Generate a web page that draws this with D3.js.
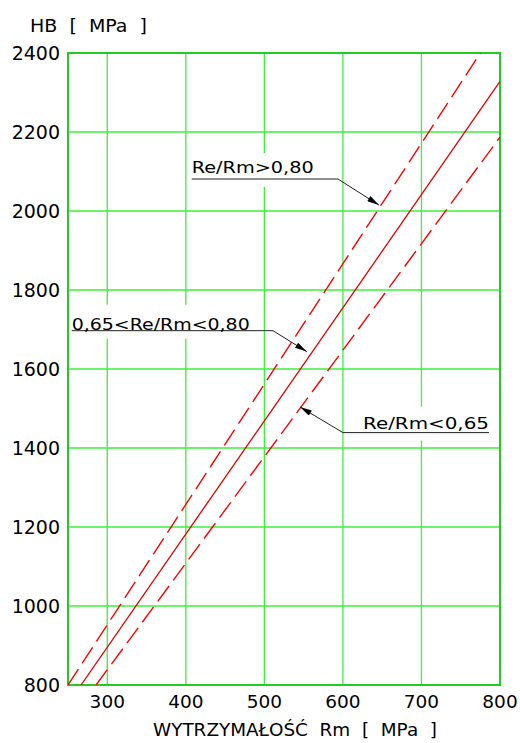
<!DOCTYPE html>
<html><head><meta charset="utf-8">
<script src="https://cdn.jsdelivr.net/npm/d3@7"></script>
<style>body{margin:0;background:#fff}svg{display:block}</style>
</head><body>
<script>
// ---- data ----
const xTicks = [300, 400, 500, 600, 700, 800];
const yTicks = [800, 1000, 1200, 1400, 1600, 1800, 2000, 2200, 2400];
const seriesNames = ["Re/Rm>0,80", "0,65<Re/Rm<0,80", "Re/Rm<0,65"];
const upperLine = [[250, 800], [775, 2400]];
const middleLine = [[266.6, 800], [800, 2328]];
const lowerLine = [[285.7, 800], [800, 2187]];
const yTitle = "HB  [  MPa  ]";
const xTitle = "WYTRZYMAŁOŚĆ  Rm  [  MPa  ]";

const W = 520, H = 743;
const svg = d3.select("body").append("svg").attr("width", W).attr("height", H);
const x = d3.scaleLinear().domain([250, 800]).range([68, 500]);
const y = d3.scaleLinear().domain([800, 2400]).range([685, 53]);

const font = "DejaVu Sans, sans-serif";

// grid
const g = svg.append("g");
g.selectAll(".vg").data(xTicks.filter(t => t < 800)).join("line")
  .attr("x1", d => x(d)).attr("x2", d => x(d)).attr("y1", y(800)).attr("y2", y(2400))
  .attr("stroke", "#3cf03c").attr("stroke-width", 1.3);
g.selectAll(".hg").data(yTicks.filter(t => t > 800 && t < 2400)).join("line")
  .attr("y1", d => y(d)).attr("y2", d => y(d)).attr("x1", x(250)).attr("x2", x(800))
  .attr("stroke", "#3cf03c").attr("stroke-width", 1.3);

// annotation white boxes (behind lines, over grid)
const annotations = [
  {text: seriesNames[0], tx: 407.5, ty: 2095, len: 122, lead: [[407.5, 2081], [593.7, 2081], [645.9, 2015]], anchor: "start"},
  {text: seriesNames[1], tx: 254.7, ty: 1700, len: 178, lead: [[254.7, 1697], [511, 1697], [553.9, 1644]], anchor: "start"},
  {text: seriesNames[2], tx: 786, ty: 1449, len: 126, lead: [[786, 1439], [600, 1439], [545.4, 1504]], anchor: "end"}
];
annotations.forEach(a => {
  const ly = y(a.lead[0][1]);
  const x0 = a.anchor === "start" ? x(a.tx) - 3 : x(a.tx) - a.len - 3;
  g.append("rect").attr("x", x0).attr("y", ly - 26).attr("width", a.len + 6).attr("height", 34)
    .attr("fill", "#fff");
});

// border
g.append("rect").attr("x", x(250)).attr("y", y(2400)).attr("width", x(800) - x(250)).attr("height", y(800) - y(2400))
  .attr("fill", "none").attr("stroke", "#22cc22").attr("stroke-width", 2);

// lines
const line = d3.line().x(d => x(d[0])).y(d => y(d[1]));
svg.append("defs").append("clipPath").attr("id", "clip").append("rect")
  .attr("x", x(250)).attr("y", y(2400)).attr("width", x(800) - x(250)).attr("height", y(800) - y(2400));
const lg = svg.append("g").attr("clip-path", "url(#clip)");
lg.append("path").attr("d", line(upperLine)).attr("fill", "none").attr("stroke", "#ff0000")
  .attr("stroke-width", 1.4).attr("stroke-dasharray", "19,7");
lg.append("path").attr("d", line(middleLine)).attr("fill", "none").attr("stroke", "#e00000")
  .attr("stroke-width", 1.3);
lg.append("path").attr("d", line(lowerLine)).attr("fill", "none").attr("stroke", "#ff0000")
  .attr("stroke-width", 1.4).attr("stroke-dasharray", "19,7");

// annotations
svg.append("defs").append("marker").attr("id", "arr").attr("viewBox", "0 0 12 6")
  .attr("refX", 12).attr("refY", 3).attr("markerWidth", 13).attr("markerHeight", 6)
  .attr("markerUnits", "userSpaceOnUse").attr("orient", "auto")
  .append("path").attr("d", "M0,0 L12,3 L0,6 Z").attr("fill", "#000");
annotations.forEach(a => {
  svg.append("path").attr("d", line(a.lead)).attr("fill", "none").attr("stroke", "#222")
    .attr("stroke-width", 1).attr("marker-end", "url(#arr)");
  svg.append("text").attr("x", x(a.tx)).attr("y", y(a.ty)).attr("text-anchor", a.anchor)
    .attr("font-family", font).attr("font-size", 16.5).attr("fill", "#000")
    .attr("textLength", a.len).attr("lengthAdjust", "spacingAndGlyphs").text(a.text);
});

// axes labels
svg.append("g").selectAll("text").data(yTicks).join("text")
  .attr("x", 60).attr("y", d => y(d)).attr("dy", "0.36em").attr("text-anchor", "end")
  .attr("font-family", font).attr("font-size", 19).attr("fill", "#000").text(d => d);
svg.append("g").selectAll("text").data(xTicks).join("text")
  .attr("x", d => x(d)).attr("y", 708).attr("text-anchor", "middle")
  .attr("font-family", font).attr("font-size", 18.5).attr("fill", "#000").text(d => d);

svg.append("text").attr("x", 30).attr("y", 32).attr("font-family", font).attr("font-size", 18)
  .attr("textLength", 117).attr("lengthAdjust", "spacingAndGlyphs")
  .style("white-space", "pre").text(yTitle);
svg.append("text").attr("x", 153).attr("y", 736).attr("font-family", font).attr("font-size", 17)
  .attr("textLength", 284).attr("lengthAdjust", "spacingAndGlyphs")
  .style("white-space", "pre").text(xTitle);
</script>
</body></html>
